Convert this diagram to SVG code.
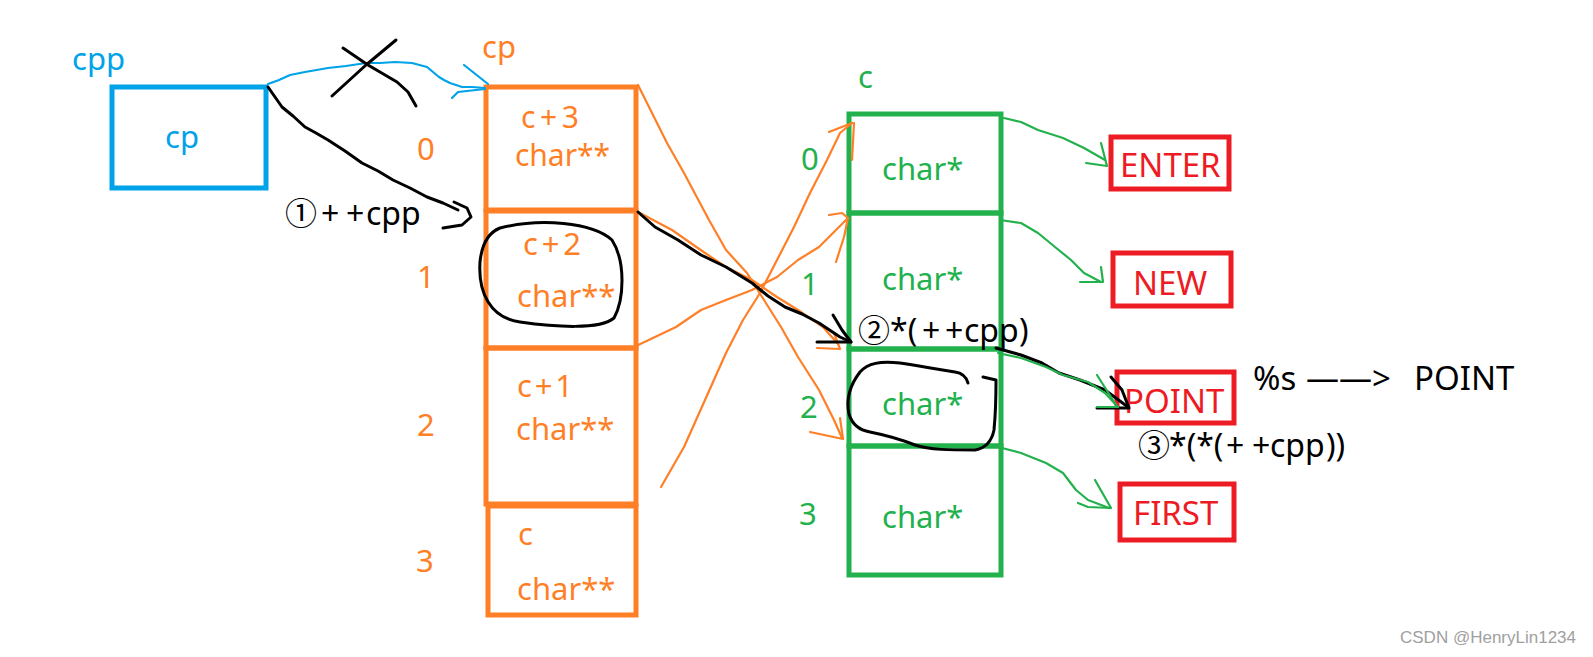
<svg xmlns="http://www.w3.org/2000/svg" width="1593" height="657" viewBox="0 0 1593 657">
<style>
text{font-family:"Noto Sans","Noto Sans CJK SC","DejaVu Sans",sans-serif;}
.t{font-size:31px;}
.s{font-size:30px;}
.k{font-size:32px;fill:#000;}
.r{font-size:33px;fill:#ED1C24;}
.bl{fill:#00A2E8;} .or{fill:#FF7F27;} .gr{fill:#22B14C;} .bk{fill:#000;}
.bbox{fill:none;stroke:#00A2E8;stroke-width:5;}
.obox{fill:none;stroke:#FF7F27;stroke-width:5;}
.gbox{fill:none;stroke:#22B14C;stroke-width:5;}
.rbox{fill:none;stroke:#ED1C24;stroke-width:5;}
.ln{fill:none;stroke-width:2.2;stroke-linejoin:round;stroke-linecap:round;}
.lb{stroke:#00A2E8;} .lo{stroke:#FF7F27;} .lg{stroke:#22B14C;}
.lk{fill:none;stroke:#000;stroke-width:3;stroke-linejoin:round;stroke-linecap:round;}
.wm{font-family:"Liberation Sans",Arial,sans-serif;font-size:17px;fill:#a0a0a0;}
</style>
<rect width="1593" height="657" fill="#fff"/>

<g id="cpp">
<text class="t bl" x="72" y="70">cpp</text>
<rect class="bbox" x="112" y="87" width="154" height="101"/>
<text class="t bl" x="165" y="148">cp</text>
</g>

<g id="cp-array">
<text class="t or" x="482" y="58">cp</text>
<g id="cp0">
<rect class="obox" x="486" y="87" width="150" height="123"/>
<text class="t or" x="417" y="160">0</text>
<text class="s or" x="521" y="128" textLength="58">c+3</text>
<text class="s or" x="515" y="166" textLength="95">char**</text>
</g>
<g id="cp1">
<rect class="obox" x="486" y="211" width="150" height="137"/>
<text class="t or" x="417" y="288">1</text>
<text class="t or" x="523" y="255" textLength="58">c+2</text>
<text class="t or" x="517" y="307">char**</text>
</g>
<g id="cp2">
<rect class="obox" x="486" y="348" width="150" height="156"/>
<text class="t or" x="417" y="436">2</text>
<text class="t or" x="517" y="397" textLength="56">c+1</text>
<text class="t or" x="516" y="440">char**</text>
</g>
<g id="cp3">
<rect class="obox" x="488" y="506" width="148" height="109"/>
<text class="t or" x="416" y="572">3</text>
<text class="t or" x="518" y="545">c</text>
<text class="t or" x="517" y="600">char**</text>
</g>
</g>

<g id="c-array">
<text class="t gr" x="858" y="88">c</text>
<g id="c0">
<rect class="gbox" x="849" y="114" width="152" height="99"/>
<text class="t gr" x="801" y="170">0</text>
<text class="t gr" x="882" y="180">char*</text>
</g>
<g id="c1">
<rect class="gbox" x="849" y="213" width="152" height="136"/>
<text class="t gr" x="801" y="295">1</text>
<text class="t gr" x="882" y="290">char*</text>
</g>
<g id="c2">
<rect class="gbox" x="849" y="349" width="152" height="97"/>
<text class="t gr" x="800" y="418">2</text>
<text class="t gr" x="882" y="415">char*</text>
</g>
<g id="c3">
<rect class="gbox" x="849" y="446" width="152" height="129"/>
<text class="t gr" x="799" y="525">3</text>
<text class="t gr" x="882" y="528">char*</text>
</g>
</g>

<g id="enter">
<rect class="rbox" x="1111" y="137" width="118" height="52"/>
<text class="r" x="1120" y="177">ENTER</text>
</g>
<g id="new">
<rect class="rbox" x="1113" y="253" width="118" height="53"/>
<text class="r" x="1133" y="295">NEW</text>
</g>
<g id="point">
<rect class="rbox" x="1117" y="372" width="117" height="51"/>
<text class="r" x="1124" y="413">POINT</text>
</g>
<g id="first">
<rect class="rbox" x="1120" y="484" width="114" height="56"/>
<text class="r" x="1133" y="525">FIRST</text>
</g>

<g id="labels">
<text class="k" x="285" y="225">①<tspan x="321">+</tspan><tspan x="346">+</tspan><tspan x="366">cpp</tspan></text>
<text class="k" x="858" y="342">②<tspan x="890">*(</tspan><tspan x="922">+</tspan><tspan x="945">+</tspan><tspan x="964">cpp</tspan><tspan x="1019">)</tspan></text>
<text class="k" x="1138" y="457">③<tspan x="1169">*(*(</tspan><tspan x="1226">+</tspan><tspan x="1252">+</tspan><tspan x="1270">cpp</tspan><tspan x="1326">))</tspan></text>
<text class="r bk" x="1253" y="390">%s <tspan x="1306">——&gt; </tspan><tspan x="1414">POINT</tspan></text>
<text class="wm" x="1400" y="643">CSDN @HenryLin1234</text>
</g>

<g id="connectors">
<!-- blue cpp -> cp (crossed out) -->
<path class="ln lb" d="M268,84 L279,80 L290,75 L305,72 L328,68 L346,66 L366,63 L380,63 L395,62 L412,63 L427,67 L433,72 L439,77 L444,80 L450,83 L462,87 L472,87 L485,88"/>
<path class="ln lb" d="M464,65 L488,84"/>
<path class="ln lb" d="M452,98 L458,92 L485,89"/>
<path class="lk" d="M343,48 L368,65 L397,82 L408,92 L416,106"/>
<path class="lk" d="M396,40 L366,65 L332,96"/>
<!-- black ① ++cpp -->
<path class="lk" d="M268,87 L275,97 L282,107 L293,116 L305,127 L316,133 L328,140 L345,151 L362,163 L378,171 L393,180 L410,188 L427,197 L443,203 L458,210"/>
<path class="lk" d="M454,202 L467,208 L471,217 L462,225 L443,228"/>
<!-- circles -->
<path class="lk" d="M500,228 C540,218 592,222 612,240 C626,262 624,300 614,318 C600,330 555,327 520,322 C490,318 478,292 480,262 C482,242 490,232 500,228 Z"/>
<path class="lk" d="M968,383 C966,376 962,373 955,372 C940,370 920,366 900,363 C880,361 868,363 860,372 C850,385 846,400 849,414 C852,424 858,430 870,432 C885,435 900,439 915,445 C930,450 950,450 975,450 C986,448 992,440 994,430 C996,410 996,395 996,380 L983,377"/>
<!-- orange pointers -->
<path class="ln lo" d="M638,85 L667,143 L684,173 L709,220 L726,250 L747,273 L764,300 L781,327 L798,357 L819,390 L834,420 L842,438"/>
<path class="ln lo" d="M810,432 L843,439 M840,418 L843,439"/>
<path class="ln lo" d="M638,212 L672,230 L705,253 L726,267 L752,280 L777,297 L798,310 L823,327 L838,344"/>
<path class="ln lo" d="M817,348 L840,349 M834,333 L840,349"/>
<path class="ln lo" d="M634,347 L676,327 L701,310 L726,300 L752,290 L777,277 L798,260 L819,247 L848,218"/>
<path class="ln lo" d="M829,215 L842,213 L848,218 M836,262 L844,237 L848,218"/>
<path class="ln lo" d="M661,487 L684,447 L705,400 L726,353 L743,320 L760,293 L777,260 L794,227 L810,193 L827,160 L840,133 L852,123"/>
<path class="ln lo" d="M829,132 L852,123 M852,160 L854,123"/>
<!-- black ② -->
<path class="lk" d="M638,212 L655,227 L678,240 L701,255 L726,267 L752,283 L768,296 L785,307 L802,314 L819,323 L840,337 L851,342"/>
<path class="lk" d="M833,315 L842,330 L851,342 M817,342 L851,342"/>
<!-- black ③ -->
<path class="lk" d="M996,348 L1021,355 L1042,363 L1059,373 L1080,380 L1105,390 L1128,407"/>
<path class="lk" d="M1111,377 L1122,390 L1129,408 M1097,408 L1129,408"/>
<!-- green pointers -->
<path class="ln lg" d="M1004,118 L1021,122 L1038,130 L1063,138 L1084,148 L1105,160"/>
<path class="ln lg" d="M1086,163 L1107,166 M1101,143 L1107,166"/>
<path class="ln lg" d="M1000,220 L1021,223 L1038,233 L1055,247 L1071,260 L1084,273 L1101,282"/>
<path class="ln lg" d="M1080,282 L1103,282 M1101,267 L1103,282"/>
<path class="ln lg" d="M998,353 L1021,358 L1046,367 L1063,375 L1088,382 L1105,393 L1118,407"/>
<path class="ln lg" d="M1097,407 L1118,407 M1097,375 L1116,405"/>
<path class="ln lg" d="M1002,448 L1021,453 L1046,463 L1063,473 L1076,490 L1088,500 L1109,508"/>
<path class="ln lg" d="M1078,503 L1088,507 L1111,508 M1095,480 L1111,508"/>
</g>
</svg>
